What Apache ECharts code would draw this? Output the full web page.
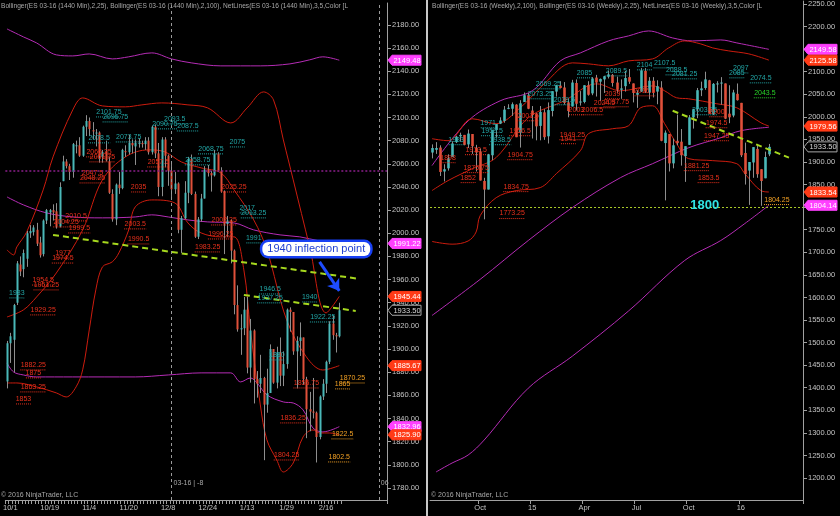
<!DOCTYPE html>
<html><head><meta charset="utf-8">
<script src="https://cdn.jsdelivr.net/npm/echarts@6/dist/echarts.min.js"></script>
<style>html,body{margin:0;padding:0;background:#000;}#c{width:840px;height:516px;}</style>
</head><body><div id="c"></div>
<script>
// ---------------- DATA: daily (left panel) ----------------
const dailyDates = ['9/30','10/1','10/2','10/5','10/6','10/7','10/8','10/9','10/12','10/13','10/14','10/15','10/16','10/19','10/20','10/21','10/22','10/23','10/26','10/27','10/28','10/29','10/30','11/2','11/3','11/4','11/5','11/6','11/9','11/10','11/11','11/12','11/13','11/16','11/17','11/18','11/19','11/20','11/23','11/24','11/25','11/26','11/27','11/30','12/1','12/2','12/3','12/4','12/7','12/8','12/9','12/10','12/11','12/14','12/15','12/16','12/17','12/18','12/21','12/22','12/23','12/24','12/28','12/29','12/30','12/31','1/4','1/5','1/6','1/7','1/8','1/11','1/12','1/13','1/14','1/15','1/18','1/19','1/20','1/21','1/22','1/25','1/26','1/27','1/28','1/29','2/1','2/2','2/3','2/4','2/5','2/8','2/9','2/10','2/11','2/12','2/15','2/16','2/17','2/18','2/19','2/22'];
const dailyTickLabels = ['10/1','10/19','11/4','11/20','12/8','12/24','1/13','1/29','2/16'];
// [open, high, low, close]
const dailyOHLC = [
[1872,1907,1866,1905],[1905,1914,1888,1911],[1908,1939,1880,1938],[1940,1976,1938,1974],[1973,1980,1963,1967],
[1969,1986,1962,1983],[1978,2002,1971,2000],[2000,2007,1996,2002],[2001,2007,1998,2005],[2003,2009,1989,1991],
[1992,1997,1979,1981],[1982,2012,1980,2011],[2011,2021,2008,2020],[2018,2021,2006,2020],[2020,2025,2011,2018],
[2019,2026,2004,2006],[2006,2044,2005,2040],[2045,2067,2045,2062],[2062,2064,2056,2058],[2058,2060,2046,2053],
[2053,2078,2048,2077],[2076,2080,2069,2076],[2076,2083,2066,2067],[2067,2093,2066,2092],[2092,2102,2084,2097],
[2097,2100,2084,2090],[2089,2096,2081,2088],[2087,2090,2075,2087],[2087,2088,2061,2067],[2066,2072,2061,2070],
[2071,2080,2062,2063],[2062,2066,2034,2035],[2034,2038,2010,2012],[2012,2043,2007,2042],[2042,2053,2034,2039],
[2039,2073,2038,2072],[2071,2076,2066,2070],[2070,2085,2068,2078],[2078,2081,2069,2076],[2075,2081,2059,2078],
[2078,2082,2074,2078],[2078,2080,2074,2077],[2077,2083,2072,2080],[2080,2083,2068,2070],[2070,2093,2068,2092],
[2092,2094,2065,2069],[2069,2078,2032,2040],[2040,2083,2032,2081],[2081,2083,2057,2067],[2067,2068,2041,2054],
[2054,2062,2029,2038],[2038,2053,2034,2043],[2043,2044,2000,2003],[2003,2015,1983,2013],[2013,2045,2012,2035],
[2035,2066,2026,2064],[2064,2068,2033,2034],[2034,2036,1996,1997],[1997,2014,1995,2012],[2012,2034,2010,2030],
[2030,2058,2030,2055],[2055,2059,2049,2052],[2052,2054,2036,2050],[2050,2072,2049,2069],[2069,2070,2053,2054],
[2054,2057,2035,2036],[2036,2037,1982,2008],[2008,2015,1997,2011],[2011,2012,1974,1985],[1985,1986,1930,1938],
[1938,1955,1915,1917],[1917,1930,1895,1918],[1918,1945,1912,1934],[1934,1945,1879,1884],[1884,1926,1871,1916],
[1916,1917,1853,1874],[1874,1881,1858,1870],[1870,1895,1862,1875],[1875,1876,1804,1852],[1852,1883,1845,1862],
[1862,1904,1862,1900],[1900,1900,1870,1871],[1871,1902,1866,1897],[1897,1910,1868,1877],[1877,1898,1868,1887],
[1887,1935,1883,1934],[1934,1936,1915,1932],[1932,1932,1895,1898],[1898,1911,1866,1907],[1907,1923,1894,1910],
[1910,1910,1869,1874],[1874,1876,1823,1848],[1848,1863,1829,1846],[1846,1875,1840,1845],[1845,1846,1802,1824],
[1824,1860,1822,1859],[1859,1874,1856,1870],[1870,1890,1862,1889],[1889,1924,1887,1922],[1922,1929,1908,1912],
[1912,1914,1897,1911],[1911,1940,1910,1933.5]];
// bands: [barIndex, value]
const bb25UpperL = [[0,1985.6],[2,1981.3],[3,1988.2],[6,2001.2],[11,2037.5],[14,2066.0],[20,2106.6],[23,2116.9],[29,2110.0],[36,2109.2],[41,2110.9],[47,2112.6],[55,2110.9],[61,2108.3],[68,2095.3],[73,2108.3],[78,2122.1],[81,2115.2],[84,2080.6],[87,2046.1],[92,1988.2],[97,1931.2],[101,1945.44]];
const bb25MidL = [[0,1927.7],[5,1933.8],[9,1945.0],[15,1965.7],[23,2002.9],[29,2046.1],[36,2066.0],[43,2072.0],[48,2070.3],[53,2061.6],[59,2056.5],[65,2052.1],[69,2037.5],[75,2011.5],[79,1985.6],[85,1925.2],[91,1893.2],[96,1881.9],[101,1885.67]];
const bb25LowerL = [[0,1870.7],[3,1870.7],[9,1867.3],[15,1862.1],[18,1858.6],[21,1867.3],[23,1882.0],[25,1916.5],[27,1951.1],[29,1970.9],[32,1975.3],[34,1983.0],[37,2002.9],[39,2022.8],[44,2028.8],[51,2026.2],[55,2008.9],[59,2000.3],[65,1996.9],[69,1996.9],[72,1968.3],[74,1916.5],[77,1851.7],[79,1821.5],[82,1804.2],[84,1793.8],[87,1801.6],[90,1824.1],[93,1830.1],[95,1827.5],[98,1827.5],[101,1825.90]];
const bb100UpperL = [[0,2176.5],[5,2169.6],[9,2164.4],[15,2154.1],[20,2153.2],[25,2154.9],[32,2150.6],[37,2152.4],[44,2155.8],[50,2150.6],[56,2147.2],[65,2144.6],[77,2144.6],[86,2146.3],[92,2149.8],[96,2152.4],[101,2149.48]];
const bb100MidL = [[0,2031.4],[5,2024.5],[12,2017.6],[20,2014.1],[29,2013.3],[39,2014.1],[44,2015.9],[49,2014.1],[55,2011.5],[61,2009.8],[69,2008.9],[75,2002.9],[83,1998.6],[89,1996.9],[95,1993.4],[101,1991.22]];
const bb100LowerL = [[0,1888.0],[2,1880.2],[5,1877.6],[9,1875.9],[20,1875.9],[39,1875.9],[49,1877.6],[59,1879.4],[68,1879.4],[71,1871.6],[74,1875.0],[76,1870.7],[79,1860.4],[84,1854.3],[87,1853.4],[90,1847.4],[93,1831.8],[96,1828.4],[101,1832.96]];
const netLevelL = 2054;
const trendL1 = [[14,1998.6],[107,1960.6]];
const trendL2 = [[72,1946.7],[106,1932.9]];
const calloutL = [94,1986.5,'1940 inflection point'];
const arrowL = [[95,1975.3],[101,1950.2]];
const rollLinesL = [50,113];
const rollNotesL = [[50,1784.3,'03-16 | -8'],[113,1784.3,'06']];
const leftTagValues = [2149.48,1991.22,1945.44,1933.50,1885.67,1832.96,1825.90];
const leftTagKinds  = ['bb100','bb100','bb25','price','bb25','bb100','bb25'];
const leftTealLabels = [[31,2104.8,'2101.75'],[33,2100.5,'2096.75'],[28,2082.4,'2078.5'],[37,2083.2,'2073.75'],[51,2098.8,'2093.5'],[48,2094.5,'2090.75'],[55,2092.7,'2087.5'],[62,2072.9,'2068.75'],[70,2078.9,'2075'],[58,2063.4,'2058.75'],[73,2021.9,'2017'],[75,2017.6,'2013.25'],[75,1996.0,'1991'],[3,1948.5,'1983'],[80,1951.9,'1946.5'],[80,1944.2,'1937.25'],[92,1945.0,'1940'],[96,1927.7,'1922.25'],[82,1894.9,'1880']];
const leftRedLabels = [[28,2070.3,'2066.25'],[29,2066.0,'2061.75'],[26,2052.1,'2047.5'],[26,2047.8,'2048.25'],[40,2040.0,'2035'],[46,2061.6,'2057.5'],[69,2040.0,'2025.25'],[66,2011.5,'2002.25'],[65,1999.4,'1996.25'],[61,1988.2,'1983.25'],[21,2015.0,'2010.5'],[18,2009.8,'2004.25'],[22,2004.6,'1999.5'],[39,2008.1,'2003.5'],[40,1995.1,'1990.5'],[17,1983.0,'1977'],[17,1978.6,'1974.5'],[11,1959.6,'1954.5'],[12,1955.4,'1951.25'],[11,1933.8,'1929.25'],[8,1886.3,'1882.25'],[8,1879.4,'1875'],[8,1867.3,'1863.25'],[5,1856.9,'1853'],[91,1870.7,'1855.75'],[87,1840.5,'1836.25'],[85,1808.5,'1804.25']];
const leftOrangeLabels = [[105,1875.0,'1870.25'],[102,1869.9,'1865'],[102,1826.7,'1822.5'],[101,1806.8,'1802.5']];

// ---------------- DATA: weekly (right panel) ----------------
const weeklyDates = ['2014-07-14','2014-07-21','2014-07-28','2014-08-04','2014-08-11','2014-08-18','2014-08-25','2014-09-01','2014-09-08','2014-09-15','2014-09-22','2014-09-29','2014-10-06','2014-10-13','2014-10-20','2014-10-27','2014-11-03','2014-11-10','2014-11-17','2014-11-24','2014-12-01','2014-12-08','2014-12-15','2014-12-22','2014-12-29',
'2015-01-05','2015-01-12','2015-01-19','2015-01-26','2015-02-02','2015-02-09','2015-02-16','2015-02-23','2015-03-02','2015-03-09','2015-03-16','2015-03-23','2015-03-30','2015-04-06','2015-04-13','2015-04-20','2015-04-27','2015-05-04','2015-05-11','2015-05-18','2015-05-25','2015-06-01','2015-06-08','2015-06-15','2015-06-22','2015-06-29','2015-07-06','2015-07-13','2015-07-20','2015-07-27','2015-08-03','2015-08-10','2015-08-17','2015-08-24','2015-08-31','2015-09-07','2015-09-14','2015-09-21','2015-09-28','2015-10-05','2015-10-12','2015-10-19','2015-10-26','2015-11-02','2015-11-09','2015-11-16','2015-11-23','2015-11-30','2015-12-07','2015-12-14','2015-12-21','2015-12-28',
'2016-01-04','2016-01-11','2016-01-18','2016-01-25','2016-02-01','2016-02-08','2016-02-15','2016-02-22'];
const weeklyTickDates = ['2014-10-06','2015-01-05','2015-04-06','2015-07-06','2015-10-05','2016-01-04'];
const weeklyTickNames = ['Oct','15','Apr','Jul','Oct','16'];
const weeklyOHLC = [
[1921,1939,1908,1931],[1927,1944,1918,1931],[1932,1937,1869,1878],[1879,1895,1857,1884],[1886,1917,1881,1908],
[1911,1946,1911,1941],[1944,1958,1942,1956],[1957,1965,1945,1960],[1960,1960,1937,1938],[1939,1972,1931,1963],
[1962,1962,1918,1935],[1931,1938,1879,1921],[1923,1930,1859,1859],[1858,1865,1773,1839],[1839,1918,1839,1917],
[1915,1971,1904,1971],[1971,1984,1954,1984],[1985,1999,1984,1992],[1991,2024,1987,2016],[2018,2028,2017,2020],
[2018,2032,2002,2028],[2027,2028,1955,1955],[1965,2037,1932,2030],[2033,2054,2033,2048],[2048,2053,2017,2018],
[2014,2024,1952,2004],[2006,2009,1948,1979],[1980,2024,1948,2011],[2010,2017,1949,1955],[1957,2032,1941,2015],
[2013,2057,2001,2057],[2056,2071,2045,2070],[2069,2079,2063,2064],[2065,2077,2027,2031],[2032,2040,1999,2013],
[2023,2082,2023,2076],[2075,2083,2014,2029],[2032,2057,2025,2034],[2033,2070,2030,2070],[2070,2079,2047,2049],
[2052,2088,2048,2085],[2087,2093,2045,2076],[2078,2085,2035,2084],[2083,2091,2053,2090],[2089,2102,2085,2094],
[2093,2095,2067,2075],[2076,2089,2053,2060],[2060,2083,2040,2063],[2068,2102,2056,2086],[2088,2106,2073,2078],
[2074,2074,2032,2053],[2049,2059,2020,2053],[2056,2108,2055,2103],[2102,2108,2053,2056],[2054,2088,2039,2080],
[2080,2088,2043,2054],[2056,2081,2028,2068],[2065,2079,1946,1947],[1942,1970,1815,1965],[1962,1962,1879,1897],
[1897,1952,1886,1937],[1947,2005,1937,1942],[1945,1973,1892,1915],[1913,1935,1856,1935],[1938,2004,1938,1999],
[1999,2018,1974,2017],[2017,2064,1997,2059],[2059,2078,2046,2063],[2064,2100,2060,2083],[2081,2082,2006,2007],
[2006,2075,2004,2073],[2073,2079,2054,2074],[2074,2088,2027,2076],[2074,2074,1995,1996],[2007,2070,1986,1999],
[2003,2060,1999,2054],[2051,2074,2036,2037],[2031,2031,1911,1915],[1920,1943,1850,1873],[1881,1894,1805,1900],
[1899,1933,1865,1933],[1929,1940,1865,1873],[1884,1884,1803,1858],[1864,1923,1864,1911],[1917,1940,1913,1933.5]];
const bb25UpperR = [[0,1951.6],[4,1947.2],[10,1995.8],[16,1984.8],[22,2020.1],[28,2073.2],[35,2119.6],[39,2117.4],[44,2113.0],[49,2124.0],[55,2128.4],[59,2152.7],[63,2168.2],[67,2161.6],[70,2152.7],[74,2146.1],[79,2139.5],[84,2125.58]];
const bb25MidR = [[0,1836.7],[4,1858.8],[10,1885],[16,1910],[24,1998.0],[33,2035.6],[41,2073.2],[47,2057.7],[55,2068.7],[58,2057.7],[61,2042.2],[64,2040.0],[71,2029.0],[76,2020.1],[82,1987.0],[84,1979.56]];
const bb25LowerR = [[0,1724],[5,1718],[9,1725],[11,1745],[12,1781],[16,1821],[21,1836.7],[27,1843.3],[31,1874.2],[37,1925.1],[39,1962.6],[45,1973.7],[49,1980.3],[52,2020.1],[55,2024.5],[58,1984.8],[61,1940.5],[64,1907.4],[70,1903.0],[76,1896.3],[78,1874.2],[82,1836.7],[84,1833.54]];
const bb100UpperR = [[0,1892],[9,1991],[17,2035.6],[25,2057.7],[32,2124.0],[37,2141.7],[44,2168.2],[49,2179.3],[54,2190.3],[60,2174.8],[65,2168.2],[72,2170.4],[76,2163.8],[84,2149.58]];
const bb100MidR = [[0,1560],[12,1640],[24,1726.1],[35,1799.1],[47,1865.4],[55,1896.3],[64,1931.7],[72,1953.8],[77,1969.3],[84,1977]];
const bb100LowerR = [[1,1213.3],[5,1233.2],[9,1250.9],[13,1284.1],[24,1399],[35,1470],[49,1570],[63,1681.9],[72,1726.1],[78,1763.7],[84,1804.14]];
const trendR = [[60,2013.5],[89,1909.6]];
const supportR = 1800;
const supportNoteR = [68,1803.5,'1800'];
const rightTagValues = [2149.58,2125.58,1979.56,1933.50,1833.54,1804.14];
const rightTagKinds  = ['bb100','bb25','bb25','price','bb25','bb100'];
const rightTealLabels = [[38,2097.5,'2085'],[27,2051.1,'2073.25'],[29,2073.2,'2069.25'],[33,2037.8,'2039.5'],[14,1986.9,'1971'],[15,1969.3,'1959.5'],[17,1949.4,'1938.5'],[6,1949.4,'1933'],[46,2101.9,'2089.5'],[53,2115.2,'2104'],[58,2119.6,'2107.5'],[61,2104.1,'2088.5'],[63,2095.3,'2081.25'],[77,2108.5,'2097'],[76,2097.5,'2085'],[82,2086.4,'2074.5'],[68,2015.7,'2003.75']];
const rightRedLabels = [[36,2015.7,'2003'],[40,2015.7,'2006.5'],[43,2031.2,'2024.5'],[46,2033.4,'2037.75'],[45,2051.1,'2039'],[24,2002.4,'2001.5'],[22,1969.3,'1956.5'],[11,1927.3,'1913.5'],[4,1909.6,'1898'],[11,1887.5,'1875.75'],[9,1865.4,'1852'],[22,1916.2,'1904.75'],[35,1960.4,'1949.25'],[34,1951.6,'1941'],[21,1845.5,'1834.75'],[20,1785.8,'1773.25'],[53,2057.7,'2016.5'],[71,2011.3,'2000'],[71,1987.0,'1974.5'],[71,1958.2,'1947.25'],[66,1891.9,'1881.25'],[69,1865.4,'1853.5']];
const rightGreenLabels = [[83,2053.3,'2043.5']];
const rightOrangeLabels = [[86,1816.8,'1804.25']];

// ---------------- RENDERING ----------------
const FONT = 'Arial, "Liberation Sans", sans-serif';
const AXC = '#a0a0a0', LBC = '#c4c4c4';
const C_UP = '#4ab8b8', C_DN = '#e0503a', C_WICK = '#8e8e8e';
const C_BB25 = '#cc1c0e', C_BB100 = '#b52cb5';
const TAG = {bb100:{bg:'#ff40ff',fg:'#fff',bd:'#ff40ff'}, bb25:{bg:'#ff3a16',fg:'#fff',bd:'#ff3a16'}, price:{bg:'#000',fg:'#d8d8d8',bd:'#a8a8a8'}};

const N_LEFT = 116, N_RIGHT = 93;
const leftCats = dailyDates.concat(Array.from({length:N_LEFT-dailyDates.length},(_,k)=>'+'+k));
const rightCats = weeklyDates.concat(Array.from({length:N_RIGHT-weeklyDates.length},(_,k)=>'+'+k));

function candles(ax, ohlc, bodyW){
  return {type:'custom', xAxisIndex:ax, yAxisIndex:ax, z:4, silent:true,
    data: ohlc.map((d,i)=>[i,d[0],d[1],d[2],d[3]]), encode:{x:0,y:[1,2,3,4]},
    renderItem(params, api){
      const i=api.value(0), o=api.value(1), h=api.value(2), l=api.value(3), c=api.value(4);
      const pO=api.coord([i,o]), pC=api.coord([i,c]), pH=api.coord([i,h]), pL=api.coord([i,l]);
      const x=Math.round(pO[0])+0.5;
      const top=Math.min(pO[1],pC[1]), bot=Math.max(pO[1],pC[1]);
      return {type:'group', children:[
        {type:'line', shape:{x1:x,y1:pH[1],x2:x,y2:pL[1]}, style:{stroke:C_WICK,lineWidth:1}},
        {type:'rect', shape:{x:x-bodyW/2, y:top, width:bodyW, height:Math.max(1,bot-top)}, style:{fill: c>=o?C_UP:C_DN}}
      ]};
    }};
}
function band(ax, pts, color){
  return {type:'line', xAxisIndex:ax, yAxisIndex:ax, data:pts, smooth:0.35, symbol:'none', silent:true, z:3,
    lineStyle:{color, width:1}};
}
function labels(ax, items, color, fontSpec, underline){
  return {type:'custom', xAxisIndex:ax, yAxisIndex:ax, z:6, silent:true,
    data: items.map(d=>[d[0],d[1]]), encode:{x:0,y:1},
    renderItem(params, api){
      const p=api.coord([api.value(0),api.value(1)]);
      const t=items[params.dataIndex][2];
      const kids=[{type:'text', x:p[0], y:p[1], style:{text:t, fill:color, font:fontSpec, align:'center', verticalAlign:'middle'}}];
      if(underline){
        const w=t.length*3.7;
        kids.push({type:'line', shape:{x1:p[0]-w/2,y1:p[1]+5,x2:p[0]+w/2,y2:p[1]+5}, style:{stroke:color,lineWidth:1,lineDash:[1,1]}});
      }
      return {type:'group', children:kids};
    }};
}
// price tags on the value axis, placed by value through the axis scale
function tagSeries(ax, values, kinds){
  return {type:'custom', xAxisIndex:ax, yAxisIndex:ax, z:12, silent:true, clip:false,
    data: values.map(v=>[0, v]), encode:{x:0,y:1},
    renderItem(params, api){
      const p=api.coord([0, api.value(1)]);
      const right = params.coordSys.x + params.coordSys.width;
      const s = TAG[kinds[params.dataIndex]];
      const v = values[params.dataIndex];
      return {type:'group', children:[
        {type:'polygon', shape:{points:[[right+1,p[1]],[right+5,p[1]-5],[right+34,p[1]-5],[right+34,p[1]+5],[right+5,p[1]+5]]},
          style:{fill:s.bg, stroke:s.bd, lineWidth:1}},
        {type:'text', x:right+20, y:p[1]+0.5, style:{text:v.toFixed(2), fill:s.fg, font:'7.5px '+FONT, align:'center', verticalAlign:'middle'}}
      ]};
    }};
}
function yAxisCfg(ax, min, max, step){
  return {type:'value', gridIndex:ax, position:'right', min, max, splitNumber:20, minInterval:step, maxInterval:step, scale:true,
    axisLine:{show:true, lineStyle:{color:AXC}}, axisTick:{show:true, length:4, lineStyle:{color:AXC}},
    splitLine:{show:false},
    axisLabel:{color:LBC, fontSize:7.5, fontFamily:FONT, margin:5, showMinLabel:false, showMaxLabel:false,
      formatter:v=>(Math.abs(v/step-Math.round(v/step))<1e-6 ? v.toFixed(2) : '')}};
}

const option = {
  animation:false, backgroundColor:'#000',
  grid:[{left:0, top:3, width:387, height:497}, {left:430, top:0, width:373, height:500}],
  xAxis:[
    {type:'category', gridIndex:0, data:leftCats, boundaryGap:true,
      axisLine:{lineStyle:{color:AXC}},
      axisTick:{show:true, length:4, lineStyle:{color:AXC}, interval:(i)=> i<=dailyDates.length},
      axisLabel:{color:LBC, fontSize:7.5, fontFamily:FONT, margin:4, interval:(i,v)=>dailyTickLabels.includes(v)}},
    {type:'category', gridIndex:1, data:rightCats, boundaryGap:true,
      axisLine:{lineStyle:{color:AXC}},
      axisTick:{show:true, length:4, lineStyle:{color:AXC}, interval:(i,v)=>weeklyTickDates.includes(v)},
      axisLabel:{color:LBC, fontSize:7.5, fontFamily:FONT, margin:4, interval:(i,v)=>weeklyTickDates.includes(v),
        formatter:v=>{const k=weeklyTickDates.indexOf(v); return k>=0?weeklyTickNames[k]:'';}}}
  ],
  yAxis:[yAxisCfg(0,1769.6,2198.9,20), yAxisCfg(1,1151.3,2256.6,50)],
  graphic:[
    {type:'rect', shape:{x:426,y:0,width:2,height:516}, style:{fill:'#c8c8c8'}},
    {type:'text', left:1, top:3, style:{text:'Bollinger(ES 03-16 (1440 Min),2,25), Bollinger(ES 03-16 (1440 Min),2,100), NetLines(ES 03-16 (1440 Min),3,5,Color [L', fill:'#a8a8a8', font:'6.6px '+FONT, width:385, overflow:'truncate', ellipsis:''}},
    {type:'text', left:432, top:3, style:{text:'Bollinger(ES 03-16 (Weekly),2,100), Bollinger(ES 03-16 (Weekly),2,25), NetLines(ES 03-16 (Weekly),3,5,Color [L', fill:'#a8a8a8', font:'6.6px '+FONT, width:369, overflow:'truncate', ellipsis:''}},
    {type:'text', left:1, top:492, style:{text:'© 2016 NinjaTrader, LLC', fill:'#a8a8a8', font:'7px '+FONT}},
    {type:'text', left:431, top:492, style:{text:'© 2016 NinjaTrader, LLC', fill:'#a8a8a8', font:'7px '+FONT}}
  ],
  series:[
    // ----- left panel -----
    {type:'line', xAxisIndex:0, yAxisIndex:0, data:[[0,netLevelL]], symbol:'none', lineStyle:{opacity:0}, silent:true, z:2,
      markLine:{silent:true, symbol:['none','none'], label:{show:false}, animation:false, data:[
        {yAxis:netLevelL, lineStyle:{color:'#8a1f8a', type:[2,2], width:1.5}},
        {xAxis:rollLinesL[0], lineStyle:{color:'#9a9a9a', type:[3,3], width:1}},
        {xAxis:rollLinesL[1], lineStyle:{color:'#9a9a9a', type:[3,3], width:1}},
        [{coord:trendL1[0], lineStyle:{color:'#a6d81e', type:[6,4], width:2}},{coord:trendL1[1]}],
        [{coord:trendL2[0], lineStyle:{color:'#a6d81e', type:[6,4], width:2}},{coord:trendL2[1]}]
      ]}},
    band(0,bb100UpperL,C_BB100), band(0,bb100MidL,C_BB100), band(0,bb100LowerL,C_BB100),
    band(0,bb25UpperL,C_BB25), band(0,bb25MidL,C_BB25), band(0,bb25LowerL,C_BB25),
    candles(0,dailyOHLC,2),
    labels(0,leftTealLabels,'#22a6a6','7px '+FONT,true),
    labels(0,leftRedLabels,'#e8301c','7px '+FONT,true),
    labels(0,leftOrangeLabels,'#f2a024','7px '+FONT,true),
    {type:'custom', xAxisIndex:0, yAxisIndex:0, z:6, silent:true, data:rollNotesL.map(d=>[d[0],d[1]]), encode:{x:0,y:1},
      renderItem(params, api){const p=api.coord([api.value(0),api.value(1)]);
        return {type:'text', x:p[0]+2, y:p[1], style:{text:rollNotesL[params.dataIndex][2], fill:'#a8a8a8', font:'7px '+FONT, align:'left', verticalAlign:'middle'}};}},
    {type:'line', xAxisIndex:0, yAxisIndex:0, data:[[0,arrowL[0][1]]], symbol:'none', lineStyle:{opacity:0}, silent:true, z:8,
      markLine:{silent:true, symbol:['none','arrow'], symbolSize:11, label:{show:false}, animation:false,
        lineStyle:{color:'#1e4cff', width:3, type:'solid'}, data:[[{coord:arrowL[0]},{coord:arrowL[1]}]]}},
    {type:'custom', xAxisIndex:0, yAxisIndex:0, z:9, silent:true, data:[[calloutL[0],calloutL[1]]], encode:{x:0,y:1},
      renderItem(params, api){const p=api.coord([api.value(0),api.value(1)]);
        return {type:'text', x:p[0], y:p[1], style:{text:calloutL[2], fill:'#1f3fd0', font:'11px '+FONT, align:'center', verticalAlign:'middle',
          backgroundColor:'#ffffff', borderColor:'#1840f5', borderWidth:2.5, borderRadius:6, padding:[2,5,1,5]}};}},
    tagSeries(0,leftTagValues,leftTagKinds),
    // ----- right panel -----
    {type:'line', xAxisIndex:1, yAxisIndex:1, data:[[0,supportR]], symbol:'none', lineStyle:{opacity:0}, silent:true, z:2,
      markLine:{silent:true, symbol:['none','none'], label:{show:false}, animation:false, data:[
        {yAxis:supportR, lineStyle:{color:'#a8c828', type:[2,2], width:1}},
        [{coord:trendR[0], lineStyle:{color:'#a6d81e', type:[6,4], width:2}},{coord:trendR[1]}]
      ]}},
    band(1,bb100UpperR,C_BB100), band(1,bb100MidR,C_BB100), band(1,bb100LowerR,C_BB100),
    band(1,bb25UpperR,C_BB25), band(1,bb25MidR,C_BB25), band(1,bb25LowerR,C_BB25),
    candles(1,weeklyOHLC,2.6),
    labels(1,rightTealLabels,'#22a6a6','7px '+FONT,true),
    labels(1,rightRedLabels,'#e8301c','7px '+FONT,true),
    labels(1,rightGreenLabels,'#28d428','7px '+FONT,true),
    labels(1,rightOrangeLabels,'#f2a024','7px '+FONT,true),
    labels(1,[supportNoteR],'#30e4e4','bold 13px '+FONT,false),
    tagSeries(1,rightTagValues,rightTagKinds)
  ]
};
const chart = echarts.init(document.getElementById('c'), null, {renderer:'canvas', width:840, height:516});
chart.setOption(option);
</script></body></html>
